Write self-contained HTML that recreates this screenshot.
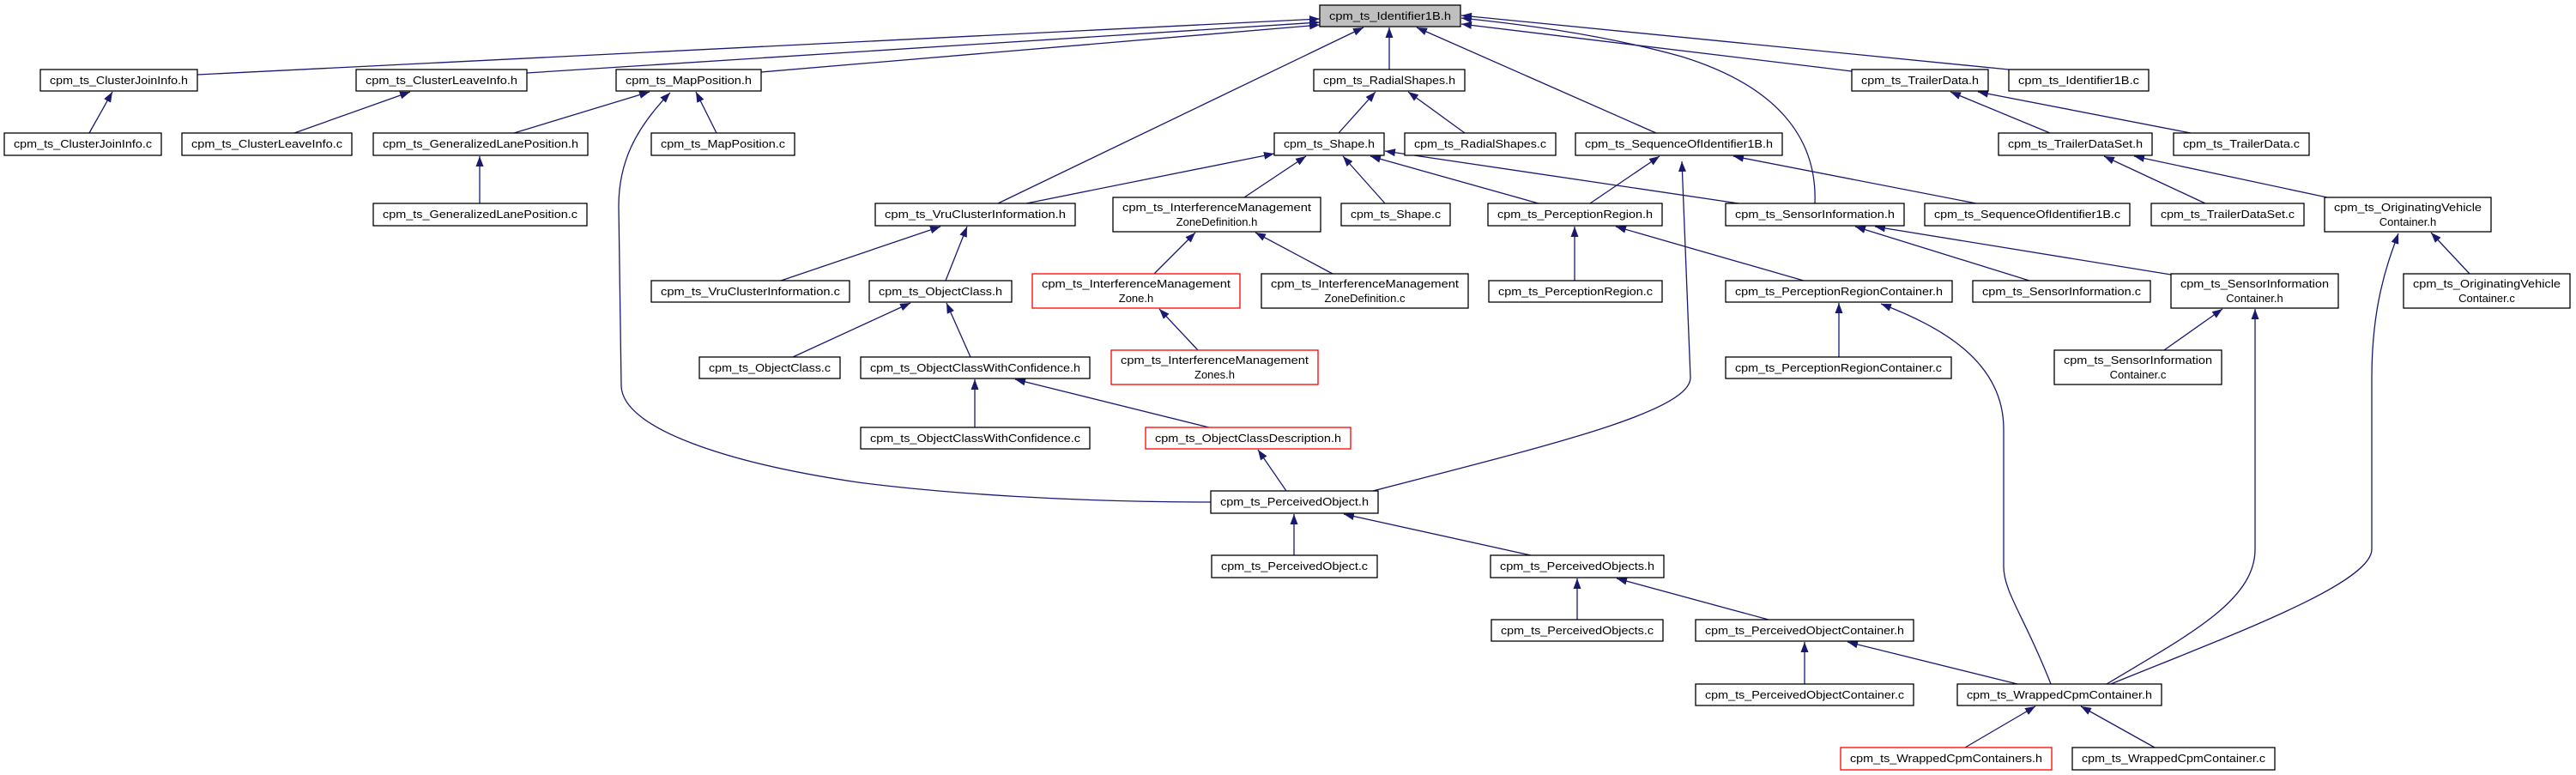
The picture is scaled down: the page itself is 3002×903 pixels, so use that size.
<!DOCTYPE html>
<html><head><meta charset="utf-8"><style>
html,body{margin:0;padding:0;background:#fff;}
svg{display:block;}
text{font-family:"Liberation Sans",sans-serif;font-size:13px;fill:#000;}
</style></head><body>
<svg width="3002" height="903" viewBox="0 0 3002 903" xmlns="http://www.w3.org/2000/svg">
<defs>
<marker id="a" markerUnits="userSpaceOnUse" markerWidth="13" markerHeight="9" refX="12" refY="4.5" orient="auto">
<path d="M0,0 L12,4.5 L0,9 z" fill="#191970"/>
</marker>
</defs>
<g fill="none" stroke="#191970" stroke-width="1.3" marker-end="url(#a)">
<!-- to Identifier1B.h -->
<line x1="230" y1="87" x2="1538" y2="22"/>
<line x1="614" y1="85" x2="1538" y2="26"/>
<line x1="887" y1="84" x2="1538" y2="29"/>
<line x1="1163" y1="237" x2="1589" y2="32"/>
<line x1="1619" y1="81" x2="1619" y2="32"/>
<line x1="1930" y1="155" x2="1651" y2="32"/>
<path d="M2115,237 C2118,160 2070,100 1960,66 C1860,38 1760,27 1703,21"/>
<line x1="2158" y1="83" x2="1703" y2="28"/>
<line x1="2341" y1="81" x2="1703" y2="18"/>
<!-- first level -->
<line x1="104" y1="155" x2="131" y2="107"/>
<line x1="343" y1="155" x2="478" y2="107"/>
<line x1="599" y1="155" x2="757" y2="107"/>
<line x1="835" y1="155" x2="811" y2="107"/>
<path d="M1411,585 C1250,585 1100,575 1000,562 C850,540 726,500 724,450 L721,240 C721,190 740,150 781,108"/>
<line x1="559" y1="237" x2="559" y2="182"/>
<line x1="1560" y1="155" x2="1603" y2="107"/>
<line x1="1707" y1="155" x2="1641" y2="107"/>
<line x1="1196" y1="237" x2="1485" y2="179"/>
<line x1="1450" y1="230" x2="1522" y2="182"/>
<line x1="1614" y1="237" x2="1565" y2="182"/>
<line x1="1793" y1="237" x2="1597" y2="182"/>
<line x1="2026" y1="237" x2="1614" y2="176"/>
<line x1="1853" y1="237" x2="1934" y2="182"/>
<line x1="2303" y1="237" x2="2020" y2="182"/>
<path d="M1600,572 C1800,520 1970,480 1970,440 L1960,188"/>
<line x1="2389" y1="155" x2="2273" y2="107"/>
<line x1="2553" y1="155" x2="2305" y2="107"/>
<line x1="2570" y1="237" x2="2452" y2="182"/>
<line x1="2712" y1="230" x2="2487" y2="182"/>
<line x1="910" y1="327" x2="1096" y2="264"/>
<line x1="1102" y1="327" x2="1127" y2="264"/>
<line x1="1345" y1="319" x2="1393" y2="271"/>
<line x1="1553" y1="319" x2="1463" y2="271"/>
<line x1="1396" y1="408" x2="1351" y2="360"/>
<line x1="1835" y1="327" x2="1835" y2="264"/>
<line x1="2102" y1="327" x2="1883" y2="264"/>
<line x1="2365" y1="327" x2="2162" y2="264"/>
<line x1="2530" y1="320" x2="2185" y2="264"/>
<line x1="2878" y1="319" x2="2833" y2="271"/>
<path d="M2460,797 C2600,740 2764,680 2764,640 L2764,440 C2764,350 2785,300 2795,272"/>
<line x1="924" y1="416" x2="1061" y2="353"/>
<line x1="1131" y1="416" x2="1103" y2="353"/>
<line x1="1136" y1="498" x2="1136" y2="442"/>
<line x1="1409" y1="498" x2="1183" y2="442"/>
<line x1="1499" y1="572" x2="1466" y2="524"/>
<line x1="2143" y1="416" x2="2143" y2="353"/>
<path d="M2390,797 C2360,720 2335,690 2335,660 L2335,500 C2335,420 2260,380 2192,354"/>
<line x1="2522" y1="408" x2="2590" y2="360"/>
<path d="M2455,797 C2550,740 2628,700 2628,640 L2628,360"/>
<line x1="1508" y1="647" x2="1508" y2="599"/>
<line x1="1784" y1="647" x2="1566" y2="599"/>
<line x1="1838" y1="722" x2="1838" y2="674"/>
<line x1="2061" y1="722" x2="1884" y2="674"/>
<line x1="2103" y1="797" x2="2103" y2="748"/>
<line x1="2351" y1="797" x2="2153" y2="748"/>
<line x1="2290" y1="871" x2="2372" y2="823"/>
<line x1="2511" y1="871" x2="2425" y2="823"/>
</g>
<g stroke-width="1.3">
<!-- nodes -->
<rect x="1538" y="6" width="164" height="25" fill="#bfbfbf" stroke="#000"/><text x="1620" y="23" text-anchor="middle" textLength="142" lengthAdjust="spacingAndGlyphs">cpm_ts_Identifier1B.h</text>
<rect x="47" y="81" width="183" height="25" fill="#fff" stroke="#000"/><text x="138.5" y="98" text-anchor="middle" textLength="161" lengthAdjust="spacingAndGlyphs">cpm_ts_ClusterJoinInfo.h</text>
<rect x="415" y="81" width="199" height="25" fill="#fff" stroke="#000"/><text x="514.5" y="98" text-anchor="middle" textLength="177" lengthAdjust="spacingAndGlyphs">cpm_ts_ClusterLeaveInfo.h</text>
<rect x="718" y="81" width="169" height="25" fill="#fff" stroke="#000"/><text x="802.5" y="98" text-anchor="middle" textLength="147" lengthAdjust="spacingAndGlyphs">cpm_ts_MapPosition.h</text>
<rect x="1531" y="81" width="176" height="25" fill="#fff" stroke="#000"/><text x="1619" y="98" text-anchor="middle" textLength="154" lengthAdjust="spacingAndGlyphs">cpm_ts_RadialShapes.h</text>
<rect x="2158" y="81" width="159" height="25" fill="#fff" stroke="#000"/><text x="2237.5" y="98" text-anchor="middle" textLength="137" lengthAdjust="spacingAndGlyphs">cpm_ts_TrailerData.h</text>
<rect x="2341" y="81" width="163" height="25" fill="#fff" stroke="#000"/><text x="2422.5" y="98" text-anchor="middle" textLength="141" lengthAdjust="spacingAndGlyphs">cpm_ts_Identifier1B.c</text>
<rect x="5" y="155" width="183" height="26" fill="#fff" stroke="#000"/><text x="96.5" y="172" text-anchor="middle" textLength="161" lengthAdjust="spacingAndGlyphs">cpm_ts_ClusterJoinInfo.c</text>
<rect x="212" y="155" width="198" height="26" fill="#fff" stroke="#000"/><text x="311" y="172" text-anchor="middle" textLength="176" lengthAdjust="spacingAndGlyphs">cpm_ts_ClusterLeaveInfo.c</text>
<rect x="435" y="155" width="250" height="26" fill="#fff" stroke="#000"/><text x="560" y="172" text-anchor="middle" textLength="228" lengthAdjust="spacingAndGlyphs">cpm_ts_GeneralizedLanePosition.h</text>
<rect x="759" y="155" width="167" height="26" fill="#fff" stroke="#000"/><text x="842.5" y="172" text-anchor="middle" textLength="145" lengthAdjust="spacingAndGlyphs">cpm_ts_MapPosition.c</text>
<rect x="1485" y="155" width="128" height="26" fill="#fff" stroke="#000"/><text x="1549" y="172" text-anchor="middle" textLength="106" lengthAdjust="spacingAndGlyphs">cpm_ts_Shape.h</text>
<rect x="1637" y="155" width="176" height="26" fill="#fff" stroke="#000"/><text x="1725" y="172" text-anchor="middle" textLength="154" lengthAdjust="spacingAndGlyphs">cpm_ts_RadialShapes.c</text>
<rect x="1836" y="155" width="241" height="26" fill="#fff" stroke="#000"/><text x="1956.5" y="172" text-anchor="middle" textLength="219" lengthAdjust="spacingAndGlyphs">cpm_ts_SequenceOfIdentifier1B.h</text>
<rect x="2329" y="155" width="179" height="26" fill="#fff" stroke="#000"/><text x="2418.5" y="172" text-anchor="middle" textLength="157" lengthAdjust="spacingAndGlyphs">cpm_ts_TrailerDataSet.h</text>
<rect x="2533" y="155" width="158" height="26" fill="#fff" stroke="#000"/><text x="2612" y="172" text-anchor="middle" textLength="136" lengthAdjust="spacingAndGlyphs">cpm_ts_TrailerData.c</text>
<rect x="435" y="237" width="249" height="26" fill="#fff" stroke="#000"/><text x="559.5" y="254" text-anchor="middle" textLength="227" lengthAdjust="spacingAndGlyphs">cpm_ts_GeneralizedLanePosition.c</text>
<rect x="1020" y="237" width="233" height="26" fill="#fff" stroke="#000"/><text x="1136.5" y="254" text-anchor="middle" textLength="211" lengthAdjust="spacingAndGlyphs">cpm_ts_VruClusterInformation.h</text>
<rect x="1297" y="230" width="242" height="40" fill="#fff" stroke="#000"/><text x="1418" y="246" text-anchor="middle" textLength="220" lengthAdjust="spacingAndGlyphs">cpm_ts_InterferenceManagement</text><text x="1418" y="263" text-anchor="middle">ZoneDefinition.h</text>
<rect x="1563" y="237" width="127" height="26" fill="#fff" stroke="#000"/><text x="1626.5" y="254" text-anchor="middle" textLength="105" lengthAdjust="spacingAndGlyphs">cpm_ts_Shape.c</text>
<rect x="1734" y="237" width="203" height="26" fill="#fff" stroke="#000"/><text x="1835.5" y="254" text-anchor="middle" textLength="181" lengthAdjust="spacingAndGlyphs">cpm_ts_PerceptionRegion.h</text>
<rect x="2011" y="237" width="208" height="26" fill="#fff" stroke="#000"/><text x="2115" y="254" text-anchor="middle" textLength="186" lengthAdjust="spacingAndGlyphs">cpm_ts_SensorInformation.h</text>
<rect x="2243" y="237" width="239" height="26" fill="#fff" stroke="#000"/><text x="2362.5" y="254" text-anchor="middle" textLength="217" lengthAdjust="spacingAndGlyphs">cpm_ts_SequenceOfIdentifier1B.c</text>
<rect x="2507" y="237" width="178" height="26" fill="#fff" stroke="#000"/><text x="2596" y="254" text-anchor="middle" textLength="156" lengthAdjust="spacingAndGlyphs">cpm_ts_TrailerDataSet.c</text>
<rect x="2709" y="230" width="194" height="40" fill="#fff" stroke="#000"/><text x="2806" y="246" text-anchor="middle" textLength="172" lengthAdjust="spacingAndGlyphs">cpm_ts_OriginatingVehicle</text><text x="2806" y="263" text-anchor="middle">Container.h</text>
<rect x="759" y="327" width="231" height="25" fill="#fff" stroke="#000"/><text x="874.5" y="344" text-anchor="middle" textLength="209" lengthAdjust="spacingAndGlyphs">cpm_ts_VruClusterInformation.c</text>
<rect x="1013" y="327" width="166" height="25" fill="#fff" stroke="#000"/><text x="1096" y="344" text-anchor="middle" textLength="144" lengthAdjust="spacingAndGlyphs">cpm_ts_ObjectClass.h</text>
<rect x="1203" y="319" width="242" height="40" fill="#fff" stroke="#ff0000"/><text x="1324" y="335" text-anchor="middle" textLength="220" lengthAdjust="spacingAndGlyphs">cpm_ts_InterferenceManagement</text><text x="1324" y="352" text-anchor="middle">Zone.h</text>
<rect x="1470" y="319" width="241" height="40" fill="#fff" stroke="#000"/><text x="1590.5" y="335" text-anchor="middle" textLength="219" lengthAdjust="spacingAndGlyphs">cpm_ts_InterferenceManagement</text><text x="1590.5" y="352" text-anchor="middle">ZoneDefinition.c</text>
<rect x="1735" y="327" width="202" height="25" fill="#fff" stroke="#000"/><text x="1836" y="344" text-anchor="middle" textLength="180" lengthAdjust="spacingAndGlyphs">cpm_ts_PerceptionRegion.c</text>
<rect x="2011" y="327" width="264" height="25" fill="#fff" stroke="#000"/><text x="2143" y="344" text-anchor="middle" textLength="242" lengthAdjust="spacingAndGlyphs">cpm_ts_PerceptionRegionContainer.h</text>
<rect x="2299" y="327" width="207" height="25" fill="#fff" stroke="#000"/><text x="2402.5" y="344" text-anchor="middle" textLength="185" lengthAdjust="spacingAndGlyphs">cpm_ts_SensorInformation.c</text>
<rect x="2530" y="319" width="195" height="40" fill="#fff" stroke="#000"/><text x="2627.5" y="335" text-anchor="middle" textLength="173" lengthAdjust="spacingAndGlyphs">cpm_ts_SensorInformation</text><text x="2627.5" y="352" text-anchor="middle">Container.h</text>
<rect x="2801" y="319" width="194" height="40" fill="#fff" stroke="#000"/><text x="2898" y="335" text-anchor="middle" textLength="172" lengthAdjust="spacingAndGlyphs">cpm_ts_OriginatingVehicle</text><text x="2898" y="352" text-anchor="middle">Container.c</text>
<rect x="815" y="416" width="164" height="25" fill="#fff" stroke="#000"/><text x="897" y="433" text-anchor="middle" textLength="142" lengthAdjust="spacingAndGlyphs">cpm_ts_ObjectClass.c</text>
<rect x="1003" y="416" width="267" height="25" fill="#fff" stroke="#000"/><text x="1136.5" y="433" text-anchor="middle" textLength="245" lengthAdjust="spacingAndGlyphs">cpm_ts_ObjectClassWithConfidence.h</text>
<rect x="1295" y="408" width="241" height="40" fill="#fff" stroke="#ff0000"/><text x="1415.5" y="424" text-anchor="middle" textLength="219" lengthAdjust="spacingAndGlyphs">cpm_ts_InterferenceManagement</text><text x="1415.5" y="441" text-anchor="middle">Zones.h</text>
<rect x="2011" y="416" width="263" height="25" fill="#fff" stroke="#000"/><text x="2142.5" y="433" text-anchor="middle" textLength="241" lengthAdjust="spacingAndGlyphs">cpm_ts_PerceptionRegionContainer.c</text>
<rect x="2394" y="408" width="195" height="40" fill="#fff" stroke="#000"/><text x="2491.5" y="424" text-anchor="middle" textLength="173" lengthAdjust="spacingAndGlyphs">cpm_ts_SensorInformation</text><text x="2491.5" y="441" text-anchor="middle">Container.c</text>
<rect x="1003" y="498" width="267" height="25" fill="#fff" stroke="#000"/><text x="1136.5" y="515" text-anchor="middle" textLength="245" lengthAdjust="spacingAndGlyphs">cpm_ts_ObjectClassWithConfidence.c</text>
<rect x="1335" y="498" width="239" height="25" fill="#fff" stroke="#ff0000"/><text x="1454.5" y="515" text-anchor="middle" textLength="217" lengthAdjust="spacingAndGlyphs">cpm_ts_ObjectClassDescription.h</text>
<rect x="1411" y="572" width="195" height="26" fill="#fff" stroke="#000"/><text x="1508.5" y="589" text-anchor="middle" textLength="173" lengthAdjust="spacingAndGlyphs">cpm_ts_PerceivedObject.h</text>
<rect x="1412" y="647" width="193" height="26" fill="#fff" stroke="#000"/><text x="1508.5" y="664" text-anchor="middle" textLength="171" lengthAdjust="spacingAndGlyphs">cpm_ts_PerceivedObject.c</text>
<rect x="1737" y="647" width="202" height="26" fill="#fff" stroke="#000"/><text x="1838" y="664" text-anchor="middle" textLength="180" lengthAdjust="spacingAndGlyphs">cpm_ts_PerceivedObjects.h</text>
<rect x="1738" y="722" width="200" height="25" fill="#fff" stroke="#000"/><text x="1838" y="739" text-anchor="middle" textLength="178" lengthAdjust="spacingAndGlyphs">cpm_ts_PerceivedObjects.c</text>
<rect x="1976" y="722" width="254" height="25" fill="#fff" stroke="#000"/><text x="2103" y="739" text-anchor="middle" textLength="232" lengthAdjust="spacingAndGlyphs">cpm_ts_PerceivedObjectContainer.h</text>
<rect x="1976" y="797" width="254" height="25" fill="#fff" stroke="#000"/><text x="2103" y="814" text-anchor="middle" textLength="232" lengthAdjust="spacingAndGlyphs">cpm_ts_PerceivedObjectContainer.c</text>
<rect x="2281" y="797" width="238" height="25" fill="#fff" stroke="#000"/><text x="2400" y="814" text-anchor="middle" textLength="216" lengthAdjust="spacingAndGlyphs">cpm_ts_WrappedCpmContainer.h</text>
<rect x="2145" y="871" width="246" height="26" fill="#fff" stroke="#ff0000"/><text x="2268" y="888" text-anchor="middle" textLength="224" lengthAdjust="spacingAndGlyphs">cpm_ts_WrappedCpmContainers.h</text>
<rect x="2415" y="871" width="236" height="26" fill="#fff" stroke="#000"/><text x="2533" y="888" text-anchor="middle" textLength="214" lengthAdjust="spacingAndGlyphs">cpm_ts_WrappedCpmContainer.c</text>
</g>
</svg>
</body></html>
